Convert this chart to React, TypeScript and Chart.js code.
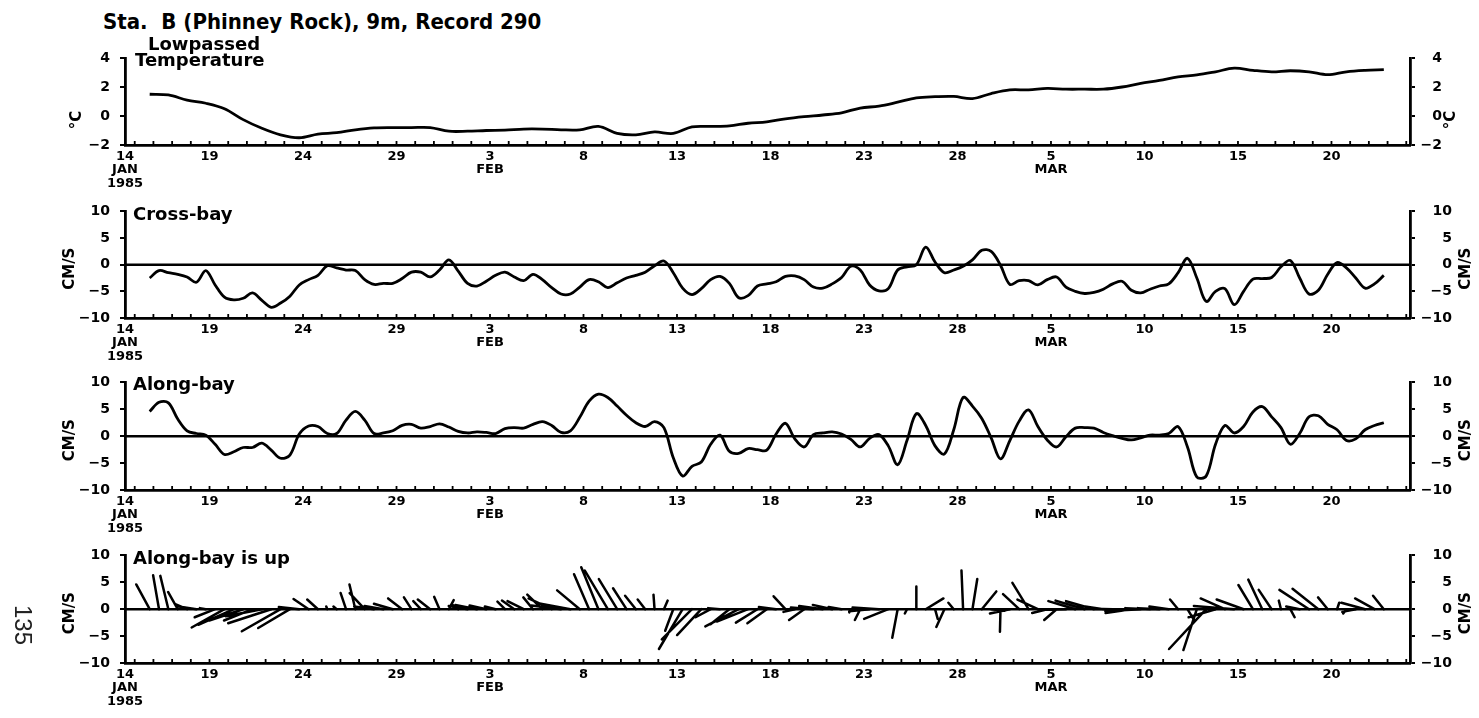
import React, { useEffect, useRef } from 'react';
import { Chart, registerables } from 'chart.js';

Chart.register(...registerables);

const FONT = '"DejaVu Sans", "Liberation Sans", sans-serif';
const TITLE_FONT = '"DejaVu Sans Condensed", "DejaVu Sans", sans-serif';

// ---- time axis: days after 14 Jan 1985 00:00 ----
const X_MIN = 0.48;
const X_MAX = 69.2;
const X_TICK_DAYS = [0, 5, 10, 15, 20, 25, 30, 35, 40, 45, 50, 55, 60, 65];
const X_TICK_LABELS = [
  ['14', 'JAN', '1985'], ['19'], ['24'], ['29'], ['3', 'FEB'], ['8'], ['13'],
  ['18'], ['23'], ['28'], ['5', 'MAR'], ['10'], ['15'], ['20'],
];

// sampling of the series (days after 14 Jan 1985)
const CURRENT_START_DAY = 1.8;
const CURRENT_STEP_DAYS = 0.5;
const TEMP_START_DAY = 1.8;
const TEMP_STEP_DAYS = 1.0;

// Lowpassed temperature, deg C (daily)
const temperature = [
  1.5, 1.45, 1.1, 0.88, 0.5, -0.25, -0.85, -1.3, -1.5, -1.25,
  -1.15, -0.95, -0.82, -0.8, -0.8, -0.8, -1.05, -1.05, -1.0, -0.98,
  -0.9, -0.9, -0.95, -0.95, -0.72, -1.2, -1.3, -1.1, -1.2, -0.75,
  -0.72, -0.68, -0.5, -0.4, -0.2, -0.05, 0.07, 0.22, 0.55, 0.68,
  0.95, 1.25, 1.33, 1.35, 1.2, 1.55, 1.8, 1.8, 1.9, 1.85,
  1.85, 1.85, 2.0, 2.25, 2.45, 2.7, 2.83, 3.05, 3.3, 3.15,
  3.05, 3.12, 3.05, 2.85, 3.05, 3.15, 3.2,
];

// Cross-bay velocity, cm/s (every half day)
const crossBay = [
  -2.5, -1.1, -1.5, -1.8, -2.3, -3.3, -1.1, -3.8, -6.1, -6.6,
  -6.3, -5.3, -6.7, -8.0, -7.2, -5.9, -3.8, -2.8, -2.0, -0.2,
  -0.6, -1.0, -1.1, -2.8, -3.7, -3.5, -3.5, -2.6, -1.4, -1.4,
  -2.3, -1.0, 0.9, -1.2, -3.5, -4.0, -3.1, -2.0, -1.4, -2.3,
  -3.0, -1.8, -2.8, -4.3, -5.5, -5.5, -4.2, -2.8, -3.2, -4.3,
  -3.4, -2.5, -2.0, -1.4, -0.2, 0.7, -1.5, -4.4, -5.6, -4.5,
  -2.8, -2.2, -3.5, -6.2, -5.8, -4.0, -3.6, -3.2, -2.2, -2.1,
  -2.8, -4.2, -4.4, -3.6, -2.4, -0.3, -1.0, -3.8, -4.9, -4.5,
  -1.0, -0.4, 0.0, 3.3, 0.5, -1.5, -1.0, -0.3, 0.9, 2.7,
  2.5, -0.1, -3.7, -3.0, -3.0, -3.8, -2.8, -2.3, -4.2, -5.0,
  -5.4, -5.2, -4.6, -3.6, -3.1, -4.8, -5.3, -4.6, -4.0, -3.6,
  -1.5, 1.2, -2.5, -6.9, -5.0, -4.5, -7.5, -5.0, -2.7, -2.6,
  -2.4, -0.4, 0.8, -2.5, -5.5, -4.8, -1.8, 0.4, -0.6, -2.5,
  -4.4, -3.6, -2.0,
];

// Along-bay velocity, cm/s (every half day)
const alongBay = [
  4.6, 6.3, 6.2, 3.2, 1.0, 0.5, 0.2, -1.5, -3.4, -2.9,
  -2.1, -2.1, -1.3, -2.6, -4.1, -3.5, 0.4, 1.9, 1.8, 0.5,
  0.5, 3.0, 4.6, 3.0, 0.5, 0.6, 1.0, 2.0, 2.2, 1.5,
  1.8, 2.3, 1.7, 0.9, 0.6, 0.8, 0.7, 0.5, 1.4, 1.6,
  1.5, 2.2, 2.7, 2.0, 0.7, 1.0, 3.5, 6.5, 7.8, 7.2,
  5.6, 3.9, 2.5, 1.8, 2.7, 1.6, -4.0, -7.4, -5.6, -4.8,
  -1.5, 0.2, -2.8, -3.2, -2.3, -2.5, -2.6, 0.4, 2.4, -0.5,
  -2.0, 0.3, 0.6, 0.8, 0.4, -0.6, -2.0, -0.4, 0.3, -1.8,
  -5.3, -0.8, 4.2, 2.0, -1.8, -3.3, 1.2, 7.2, 5.6, 3.3,
  -0.3, -4.2, -0.8, 2.8, 4.9, 1.8, -0.7, -2.0, -0.1, 1.5,
  1.6, 1.5, 0.7, 0.1, -0.4, -0.7, -0.3, 0.2, 0.2, 0.5,
  1.8, -2.0, -7.6, -7.4, -1.5, 2.0, 0.6, 1.8, 4.5, 5.5,
  3.6, 1.6, -1.5, 0.5, 3.6, 3.8, 2.2, 1.2, -0.8, -0.5,
  1.2, 2.0, 2.5,
];

const currentDays = crossBay.map((_, i) => CURRENT_START_DAY + i * CURRENT_STEP_DAYS);
const tempDays = temperature.map((_, i) => TEMP_START_DAY + i * TEMP_STEP_DAYS);

const PAGE_W = 1479;
const CHART_LEFT = 125;
const X_AXIS_H = 52;

type Label = { text: string; dx: number; dy: number };
type PanelSpec = {
  top: number; bottom: number; padTop: number;
  yMin: number; yMax: number; yStep: number; rightEdge: number;
  days?: number[]; values?: number[];
  zero: boolean; sticks: boolean;
  unit: string; unitLeftDx: number; unitRightDx: number; unitDy: number;
  labels: Label[];
};

const PANELS: PanelSpec[] = [
  {
    top: 58, bottom: 145, padTop: 26, yMin: -2, yMax: 4, yStep: 2, rightEdge: 1442,
    days: tempDays, values: temperature, zero: false, sticks: false,
    unit: '°C', unitLeftDx: -48, unitRightDx: 41, unitDy: 4,
    labels: [{ text: 'Lowpassed', dx: 23, dy: -8 }, { text: 'Temperature', dx: 10, dy: 8 }],
  },
  {
    top: 205, bottom: 318, padTop: 12, yMin: -10, yMax: 10, yStep: 5, rightEdge: 1452,
    days: currentDays, values: crossBay, zero: true, sticks: false,
    unit: 'CM/S', unitLeftDx: -55, unitRightDx: 56, unitDy: 4,
    labels: [{ text: 'Cross-bay', dx: 8, dy: 9 }],
  },
  {
    top: 376, bottom: 490, padTop: 12, yMin: -10, yMax: 10, yStep: 5, rightEdge: 1452,
    days: currentDays, values: alongBay, zero: true, sticks: false,
    unit: 'CM/S', unitLeftDx: -55, unitRightDx: 56, unitDy: 4,
    labels: [{ text: 'Along-bay', dx: 8, dy: 8 }],
  },
  {
    top: 549, bottom: 663, padTop: 12, yMin: -10, yMax: 10, yStep: 5, rightEdge: 1452,
    zero: true, sticks: true,
    unit: 'CM/S', unitLeftDx: -55, unitRightDx: 56, unitDy: 4,
    labels: [{ text: 'Along-bay is up', dx: 8, dy: 9 }],
  },
];

const fmt = (v: number) => (v < 0 ? '\u2212' + Math.abs(v) : String(v));

function Panel({ spec }: { spec: PanelSpec }) {
  const ref = useRef<HTMLCanvasElement>(null);
  const h = spec.padTop + (spec.bottom - spec.top) + X_AXIS_H;

  useEffect(() => {
    const canvas = ref.current as HTMLCanvasElement;
    const datasets: any[] = [];
    if (spec.days && spec.values) {
      datasets.push({
        data: spec.days.map((d, i) => ({ x: d, y: spec.values![i] })),
        borderColor: '#000',
        borderWidth: 2.8,
        pointRadius: 0,
        tension: 0.35,
        fill: false,
      });
    }

    const decor = {
      id: 'decor',
      afterDatasetsDraw(chart: any) {
        const { ctx, chartArea: ca, scales } = chart;
        const x = scales.x;
        const y = scales.y;
        ctx.save();
        ctx.strokeStyle = '#000';
        ctx.fillStyle = '#000';
        // daily tick marks pointing into the plot
        ctx.lineWidth = 1.8;
        ctx.beginPath();
        for (let d = Math.ceil(x.min); d <= x.max; d++) {
          const px = x.getPixelForValue(d);
          ctx.moveTo(px, ca.bottom);
          ctx.lineTo(px, ca.bottom - 4);
        }
        ctx.stroke();
        // zero line
        if (spec.zero) {
          const py = y.getPixelForValue(0);
          ctx.lineWidth = 2.4;
          ctx.beginPath();
          ctx.moveTo(ca.left, py);
          ctx.lineTo(ca.right, py);
          ctx.stroke();
        }
        // stick vectors (cross-bay horizontal, along-bay up)
        if (spec.sticks) {
          const py0 = y.getPixelForValue(0);
          const unitPx = py0 - y.getPixelForValue(1);
          ctx.lineWidth = 2.5;
          ctx.lineCap = 'round';
          ctx.beginPath();
          currentDays.forEach((d, i) => {
            const px0 = x.getPixelForValue(d);
            ctx.moveTo(px0, py0);
            ctx.lineTo(px0 + crossBay[i] * unitPx, y.getPixelForValue(alongBay[i]));
          });
          ctx.stroke();
        }
        // panel labels
        ctx.font = `bold 18px ${FONT}`;
        ctx.textAlign = 'left';
        ctx.textBaseline = 'alphabetic';
        spec.labels.forEach((l) => ctx.fillText(l.text, ca.left + l.dx, ca.top + l.dy));
        // unit labels (rotated)
        ctx.font = `bold 15px ${FONT}`;
        ctx.textAlign = 'center';
        ctx.textBaseline = 'middle';
        const yu = y.getPixelForValue(0) + spec.unitDy;
        [ca.left + spec.unitLeftDx, ca.right + spec.unitRightDx].forEach((ux) => {
          ctx.save();
          ctx.translate(ux, yu);
          ctx.rotate(-Math.PI / 2);
          ctx.fillText(spec.unit, 0, 0);
          ctx.restore();
        });
        ctx.restore();
      },
    };

    const tickFont = { family: FONT, size: 14, weight: 'bold' as const };
    const yCommon = {
      type: 'linear' as const,
      min: spec.yMin,
      max: spec.yMax,
      grid: { drawOnChartArea: false, drawTicks: true, tickLength: 5, color: '#000', lineWidth: 2 },
      border: { display: true, color: '#000', width: 2.8 },
    };

    const chart = new Chart(canvas, {
      type: 'line',
      data: { datasets },
      options: {
        responsive: false,
        animation: false,
        devicePixelRatio: 1,
        layout: { padding: { top: spec.padTop, left: 0, right: PAGE_W - spec.rightEdge, bottom: 0 } },
        plugins: { legend: { display: false }, tooltip: { enabled: false } },
        events: [],
        scales: {
          x: {
            type: 'linear',
            min: X_MIN,
            max: X_MAX,
            bounds: 'data',
            afterBuildTicks: (s: any) => {
              s.ticks = X_TICK_DAYS.map((d) => ({ value: Math.max(d, X_MIN) }));
            },
            afterFit: (s: any) => { s.height = X_AXIS_H; },
            ticks: {
              autoSkip: false,
              maxRotation: 0,
              minRotation: 0,
              padding: 5,
              color: '#000',
              font: { family: FONT, size: 13, weight: 'bold', lineHeight: 1.02 },
              callback: (_v: any, i: number) => X_TICK_LABELS[i],
            },
            grid: { display: true, drawOnChartArea: false, drawTicks: false },
            border: { display: true, color: '#000', width: 2.8 },
          },
          y: {
            ...yCommon,
            position: 'left',
            afterFit: (s: any) => { s.width = CHART_LEFT; },
            ticks: { stepSize: spec.yStep, color: '#000', font: tickFont, padding: 10, callback: (v: any) => fmt(v) },
          },
          yR: {
            ...yCommon,
            position: 'right',
            afterFit: (s: any) => { s.width = spec.rightEdge - 1410; },
            ticks: { stepSize: spec.yStep, color: '#000', font: tickFont, padding: 6, crossAlign: 'far', callback: (v: any) => fmt(v) },
          },
        },
      } as any,
      plugins: [decor],
    });
    return () => chart.destroy();
  }, []);

  return (
    <canvas
      ref={ref}
      width={PAGE_W}
      height={h}
      style={{ position: 'absolute', left: 0, top: spec.top - spec.padTop, width: PAGE_W, height: h }}
    />
  );
}

export default function App() {
  return (
    <div style={{ position: 'absolute', left: 0, top: 0, width: PAGE_W, height: 718, background: '#fff', overflow: 'hidden' }}>
      <div
        style={{
          position: 'absolute', left: 103, top: 11, font: `bold 22px ${TITLE_FONT}`, fontStretch: 'condensed',
          lineHeight: '22px', whiteSpace: 'pre', color: '#000',
        }}
      >
        {'Sta.  B (Phinney Rock), 9m, Record 290'}
      </div>
      {PANELS.map((p, i) => (
        <Panel key={i} spec={p} />
      ))}
      <div
        style={{
          position: 'absolute', left: -8, top: 610, width: 60, height: 30, lineHeight: '30px', textAlign: 'center',
          font: '24px "Liberation Sans", sans-serif', color: '#222', transform: 'rotate(90deg)',
        }}
      >
        135
      </div>
    </div>
  );
}
